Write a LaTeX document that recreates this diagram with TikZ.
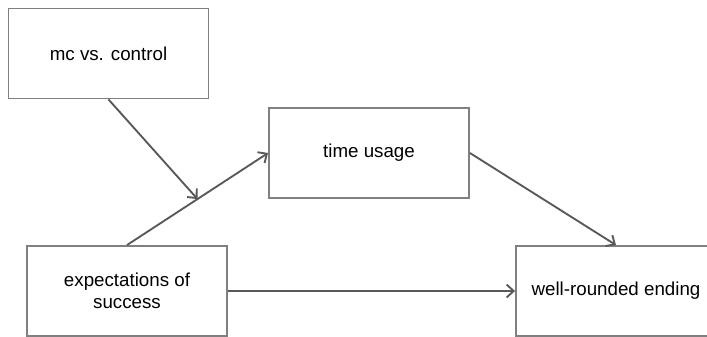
\documentclass[tikz,border=0pt]{standalone}
\usepackage{fontspec}
\setmainfont{Liberation Sans}
\usetikzlibrary{arrows.meta,calc}
\definecolor{boxgray}{RGB}{128,128,128}
\definecolor{arrowgray}{RGB}{89,89,89}
\begin{document}
\begin{tikzpicture}[x=0.03cm,y=-0.03cm]
\tikzstyle{factor}=[
	draw=boxgray,
	line width=1.6pt,
	minimum width=6cm,
	minimum height=2.7cm,
	align=center,
	inner sep=0pt,
	font=\fontsize{16}{18.5}\selectfont ]
\tikzstyle{effect}=[draw=arrowgray, line width=1.6pt, -{Straight Barb[length=6pt,width=11pt]}]
\useasboundingbox (0,0) rectangle (707,336);
\clip (0,0) rectangle (707,336);
\node[factor] (mc) at (108.5,53.5) {mc vs. control};
\node[factor] (time) at (369,153) {time usage};
\node[factor] (exp) at (127,291) {expectations of\\success};
\node[factor] (end) at (616,291) {well-rounded ending};
\coordinate (mid) at ($(exp.north)!0.5!(time.west)$);
\draw[effect] (exp.north) -- (time.west);
\draw[effect] (mc.south) -- (mid);
\draw[effect] (time.east) -- (end.north);
\draw[effect] (exp.east) -- (end.west);
\end{tikzpicture}
\end{document}
